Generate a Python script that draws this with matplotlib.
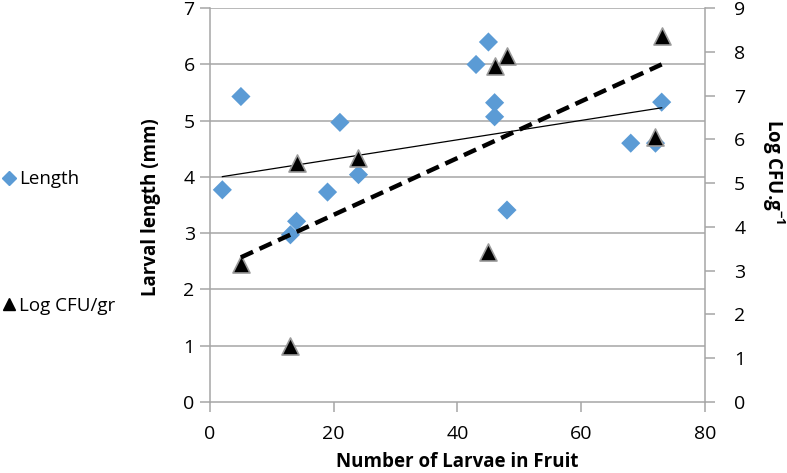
import numpy as np
import matplotlib
matplotlib.use("Agg")
import matplotlib.pyplot as plt
from matplotlib.lines import Line2D

plt.rcParams['font.family'] = ['Open Sans', 'DejaVu Sans']
plt.rcParams['mathtext.fontset'] = 'custom'
plt.rcParams['mathtext.bf'] = 'Open Sans:bold'
plt.rcParams['mathtext.rm'] = 'Open Sans'

# 幼虫长度数据 (左轴)
length_x = [2, 5, 13, 14, 19, 21, 24, 43, 45, 46, 46, 48, 68, 72, 73]
length_y = [3.77, 5.43, 2.97, 3.21, 3.73, 4.97, 4.04, 6.0, 6.4, 5.32, 5.07, 3.41, 4.6, 4.6, 5.33]

# Log CFU 数据 (右轴)
cfu_x = [5, 13, 14, 24, 45, 46, 48, 72, 73]
cfu_y = [3.15, 1.27, 5.45, 5.57, 3.43, 7.67, 7.9, 6.06, 8.37]

x_ticks = [0, 20, 40, 60, 80]
left_ticks = [0, 1, 2, 3, 4, 5, 6, 7]
right_ticks = [0, 1, 2, 3, 4, 5, 6, 7, 8, 9]

blue = '#5B9BD5'
grid_gray = '#a6a6a6'

fig = plt.figure(figsize=(7.87, 4.73), dpi=100)
ax = fig.add_axes([0.2668, 0.1507, 0.629, 0.8318])
ax2 = ax.twinx()

# 网格线
for t in left_ticks[1:]:
    ax.axhline(t, color=grid_gray, lw=1.1, zorder=0)

ax.scatter(length_x, length_y, marker='D', s=95, color=blue, edgecolors='none', zorder=3)
# 线性趋势线 (长度)
p1 = np.polyfit(length_x, length_y, 1)
xs1 = np.array([min(length_x), max(length_x)])
ax.plot(xs1, np.polyval(p1, xs1), color='black', lw=0.9, zorder=4)

ax2.scatter(cfu_x, cfu_y, marker='^', s=150, color='black', edgecolors='#9a9a9a',
            linewidths=1.2, zorder=3)
p2 = np.polyfit(cfu_x, cfu_y, 1)
xs2 = np.array([min(cfu_x), max(cfu_x)])
ax2.plot(xs2, np.polyval(p2, xs2), color='black', lw=3.2, dashes=(3, 1.6), zorder=4)

ax.set_xlim(0, 80)
ax.set_ylim(0, 7)
ax2.set_ylim(0, 9)
ax.set_xticks(x_ticks)
ax.set_yticks(left_ticks)
ax2.set_yticks(right_ticks)

for a in (ax, ax2):
    for s in a.spines.values():
        s.set_color(grid_gray)
        s.set_linewidth(1.1)
    a.spines['top'].set_visible(False)
ax.spines['right'].set_visible(False)
ax2.spines['left'].set_visible(False)
ax2.spines['bottom'].set_visible(False)

ax.tick_params(axis='both', direction='out', length=7, width=1.1, color=grid_gray,
               labelsize=14, labelcolor='black', pad=4)
ax.tick_params(axis='x', pad=10)
ax2.tick_params(axis='y', direction='out', length=7, width=1.1, color=grid_gray,
                labelsize=14, labelcolor='black', pad=14)

ax.set_xlabel('Number of Larvae in Fruit', fontsize=13.5, fontweight='bold',
              va='center', ha='center')
ax.xaxis.set_label_coords(0.5, -0.152)
ax.set_ylabel('Larval length (mm)', fontsize=13.5, fontweight='bold',
              va='center', ha='center')
ax.yaxis.set_label_coords(-0.12, 0.495)
ax2.set_ylabel('Log CFU.g$^{\\mathbf{-1}}$', fontsize=13.5, fontweight='bold',
               rotation=270, va='center', ha='center')
ax2.yaxis.set_label_coords(1.138, 0.586)

handles = [
    Line2D([], [], marker='D', color=blue, ls='none', markersize=7),
    Line2D([], [], marker='^', color='black', ls='none', markersize=8),
]
fig.legend(handles, ['Length', 'Log CFU/gr'], loc='upper left',
           bbox_to_anchor=(-0.022, 0.676), frameon=False, fontsize=13.5,
           labelspacing=5.8, handletextpad=0.05, handlelength=1.0)

fig.savefig('out.png', dpi=100)
